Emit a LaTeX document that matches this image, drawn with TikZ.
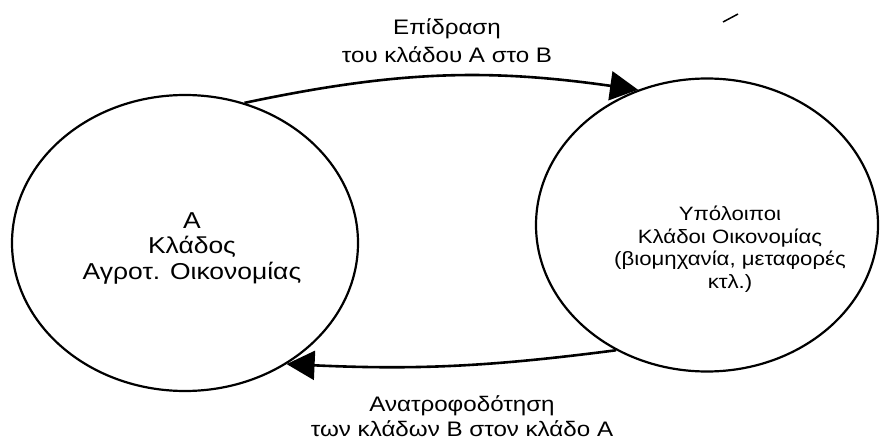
\documentclass[tikz,border=0pt]{standalone}
\usepackage{fontspec}
\setmainfont{Liberation Sans}[FakeStretch=1.15]
\usetikzlibrary{shapes.geometric,arrows.meta}
\tikzset{
	sector/.style={draw, ellipse, line width=2.2pt, inner sep=0pt},
	flow/.style={line width=2.6pt, -{Triangle[length=28pt,width=29pt]}},
	txt/.style={align=center, inner sep=0pt, font=\fontsize{21}{25.5}\selectfont}
}

\begin{document}
\begin{tikzpicture}[x=1pt,y=-1pt]
			%%%%% START %%%%%
			\useasboundingbox (0,0) rectangle (880,441);
			
			\node[sector, minimum width=346pt, minimum height=296pt] (agro) at (185,243) {};
			\node[sector, minimum width=342pt, minimum height=293pt] (rest) at (707,225) {};
			
			\node[txt, font=\fontsize{23}{25.5}\selectfont] (agroT) at (192,248) {Α\\Κλάδος\\Αγροτ. Οικονομίας};
			\node[txt, font=\fontsize{19.3}{22.5}\selectfont] (restT) at (730,249) {Υπόλοιποι\\Κλάδοι Οικονομίας\\(βιομηχανία, μεταφορές\\κτλ.)};
			
			\draw[flow] (agro.67.6) to[bend left=10] (rest.117.4);
			\draw[flow] (rest.234.2) to[bend left=5] (agro.310.6);
			
			\node[txt, font=\fontsize{21}{28}\selectfont] (effect) at (447,41) {Επίδραση\\του κλάδου Α στο Β};
			\node[txt, font=\fontsize{21}{25}\selectfont] (feedback) at (462,416) {Ανατροφοδότηση\\των κλάδων Β στον κλάδο Α};
			
			\draw[line width=1.5pt] (723,22) -- (738,14);
			%%%%% END %%%%%
\end{tikzpicture}
\end{document}
